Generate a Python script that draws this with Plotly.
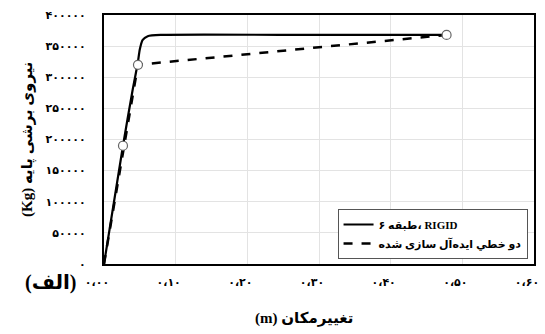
import plotly.graph_objects as go

# Data
solid_x = [0.0, 0.0265, 0.040, 0.047, 0.050, 0.054, 0.061, 0.080, 0.300, 0.478]
solid_y = [0, 190000, 280000, 322000, 345000, 360000, 366000, 368000, 368000, 368000]
bilinear_x = [0.0, 0.0474, 0.478]
bilinear_y = [0, 320000, 368000]
marker_x = [0.0265, 0.0474, 0.478]
marker_y = [190000, 320000, 368000]

x_tickvals = [0.0, 0.1, 0.2, 0.3, 0.4, 0.5, 0.6]
x_ticktext = ["۰،۰۰", "۰،۱۰", "۰،۲۰", "۰،۳۰", "۰،۴۰", "۰،۵۰", "۰،۶۰"]
y_tickvals = [0, 50000, 100000, 150000, 200000, 250000, 300000, 350000, 400000]
y_ticktext = ["۰", "۵۰۰۰۰", "۱۰۰۰۰۰", "۱۵۰۰۰۰", "۲۰۰۰۰۰", "۲۵۰۰۰۰", "۳۰۰۰۰۰", "۳۵۰۰۰۰", "۴۰۰۰۰۰"]

name_solid = "۶ طبقه، RIGID"
name_dash = "دو خطي ايده‌آل سازی شده"

font_family = "Liberation Serif, DejaVu Sans, serif"
tick_family = "DejaVu Sans, sans-serif"

fig = go.Figure()
fig.add_trace(go.Scatter(x=solid_x, y=solid_y, mode="lines", name=name_solid,
                         line=dict(color="black", width=2.2, shape="spline", smoothing=0.6)))
fig.add_trace(go.Scatter(x=bilinear_x, y=bilinear_y, mode="lines", name=name_dash,
                         line=dict(color="black", width=2.5, dash="dash")))
fig.add_trace(go.Scatter(x=marker_x, y=marker_y, mode="markers", showlegend=False,
                         marker=dict(size=9, color="white", line=dict(color="#666666", width=1.2))))

fig.update_layout(
    width=545, height=334,
    margin=dict(l=104, r=11, t=15, b=70, autoexpand=False),
    plot_bgcolor="white", paper_bgcolor="white",
    font=dict(family=font_family, size=12, color="black"),
    showlegend=True,
    legend=dict(x=0.985, y=0.02, xanchor="right", yanchor="bottom",
                bordercolor="#555555", borderwidth=1, bgcolor="white",
                font=dict(family=font_family, size=11, color="black", weight="bold"),
                tracegroupgap=0, itemwidth=30),
    xaxis=dict(range=[0, 0.6], tickvals=x_tickvals, ticktext=x_ticktext,
               showgrid=True, gridcolor="#e3e3e3", gridwidth=1,
               showline=True, linecolor="black", linewidth=2, mirror=True,
               ticks="", ticklabelstandoff=7, ticklabelshift=-7, zeroline=False, automargin=False,
               tickfont=dict(family=tick_family, size=11, weight="bold")),
    yaxis=dict(range=[0, 400000], tickvals=y_tickvals, ticktext=y_ticktext,
               showgrid=True, gridcolor="#e3e3e3", gridwidth=1,
               showline=True, linecolor="black", linewidth=2, mirror=True,
               ticks="", ticklabelstandoff=14, zeroline=False, automargin=False,
               tickfont=dict(family=tick_family, size=11, weight="bold")),
    annotations=[
        dict(text="<b>(Kg) نیروی برشی پایه</b>", xref="paper", yref="paper",
             x=-0.178, y=0.5, xanchor="center", yanchor="middle", textangle=-90,
             showarrow=False, font=dict(family=font_family, size=15)),
        dict(text="<b>(m) تغییرمکان</b>", xref="paper", yref="paper",
             x=0.465, y=-0.218, xanchor="center", yanchor="middle",
             showarrow=False, font=dict(family=font_family, size=15)),
        dict(text="<b>(الف)</b>", xref="paper", yref="paper",
             x=-0.123, y=-0.075, xanchor="center", yanchor="middle",
             showarrow=False, font=dict(family=font_family, size=20)),
    ],
)

fig.write_html("out.html")
